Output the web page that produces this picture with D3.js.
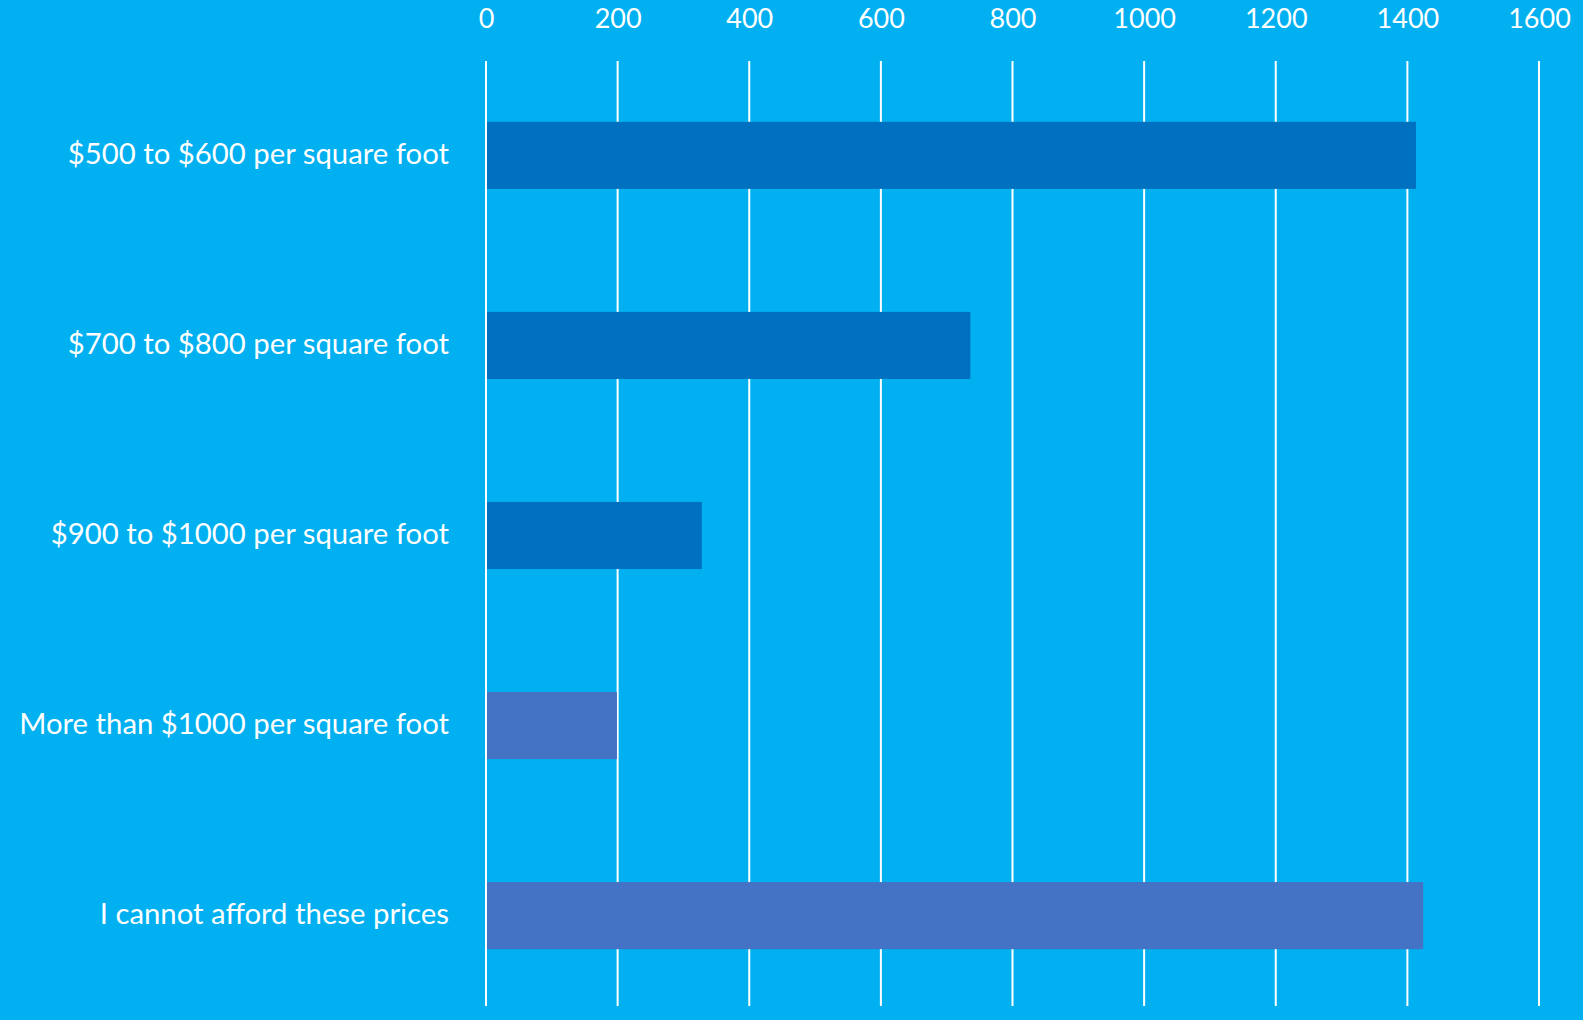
<!DOCTYPE html>
<html>
<head>
<meta charset="utf-8">
<script src="https://cdn.jsdelivr.net/npm/d3@7"></script>
<style>
  html, body { margin: 0; padding: 0; background: #00B0F0; }
  svg { display: block; }
  text { font-family: Lato, "Open Sans", sans-serif; fill: #ffffff; }
</style>
</head>
<body>
<svg id="chart" width="1583" height="1020"></svg>
<script>
// Survey answers: what price per square foot would you pay?
const categories = [
  "$500 to $600 per square foot",
  "$700 to $800 per square foot",
  "$900 to $1000 per square foot",
  "More than $1000 per square foot",
  "I cannot afford these prices"
];
const responses = [1413, 736, 328, 199, 1424];
const barColors = ["#0070C0", "#0070C0", "#0070C0", "#4472C4", "#4472C4"];
const tickValues = [0, 200, 400, 600, 800, 1000, 1200, 1400, 1600];

const width = 1583, height = 1020;
const plot = { left: 486, right: 1539, top: 61, bottom: 1010, gridBottom: 1006 };

const svg = d3.select("#chart");
svg.append("rect").attr("width", width).attr("height", height).attr("fill", "#00B0F0");

const x = d3.scaleLinear().domain([0, 1600]).range([plot.left, plot.right]);
const y = d3.scaleBand()
  .domain(categories)
  .range([plot.top, plot.bottom])
  .paddingInner(0.647)
  .paddingOuter(0.32);

// vertical gridlines
svg.append("g")
  .selectAll("line")
  .data(tickValues)
  .join("line")
  .attr("x1", d => x(d)).attr("x2", d => x(d))
  .attr("y1", plot.top).attr("y2", plot.gridBottom)
  .attr("stroke", "#ffffff")
  .attr("stroke-width", 2);

// value axis along the top
const xAxis = svg.append("g")
  .attr("transform", `translate(0, 31)`)
  .call(d3.axisTop(x).tickValues(tickValues).tickSize(0).tickPadding(0).tickFormat(d3.format("d")));
xAxis.select(".domain").remove();
xAxis.selectAll("text")
  .attr("fill", "#ffffff")
  .style("font-size", "27px")
  .attr("dy", "-0.1em");

// bars
svg.append("g")
  .selectAll("rect")
  .data(categories)
  .join("rect")
  .attr("x", x(0) + 1)
  .attr("y", d => y(d))
  .attr("width", (d, i) => x(responses[i]) - x(0) - 1)
  .attr("height", y.bandwidth())
  .attr("fill", (d, i) => barColors[i]);

// category labels
const yAxis = svg.append("g")
  .attr("transform", `translate(${plot.left}, 0)`)
  .call(d3.axisLeft(y).tickSize(0).tickPadding(37));
yAxis.select(".domain").remove();
yAxis.selectAll("text")
  .attr("fill", "#ffffff")
  .style("font-size", "29.3px")
  .attr("dy", "0.28em");
</script>
</body>
</html>
